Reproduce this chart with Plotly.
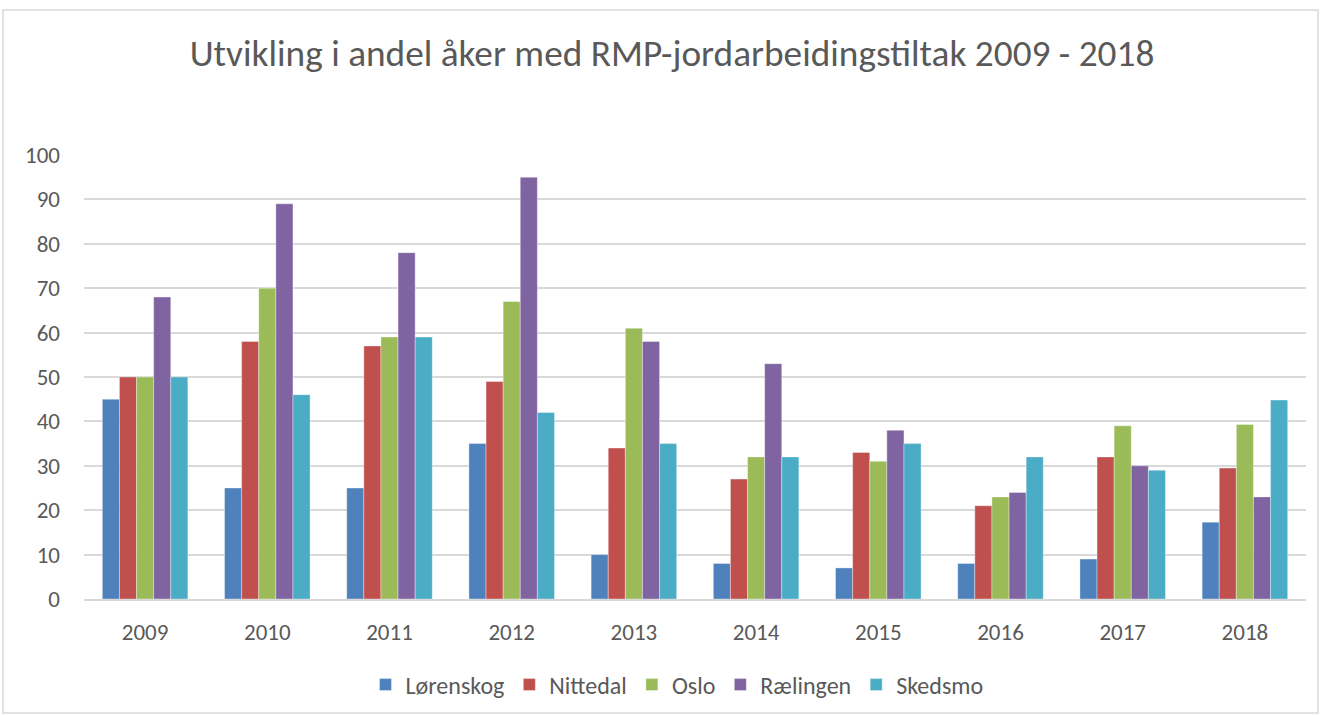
import plotly.graph_objects as go

years = ["2009", "2010", "2011", "2012", "2013", "2014", "2015", "2016", "2017", "2018"]
lorenskog = [45, 25, 25, 35, 10, 8, 7, 8, 9, 17.3]
nittedal = [50, 58, 57, 49, 34, 27, 33, 21, 32, 29.5]
oslo = [50, 70, 59, 67, 61, 32, 31, 23, 39, 39.3]
raelingen = [68, 89, 78, 95, 58, 53, 38, 24, 30, 23]
skedsmo = [50, 46, 59, 42, 35, 32, 35, 32, 29, 44.8]

series = [
    ("Lørenskog", lorenskog, "#4F81BD"),
    ("Nittedal", nittedal, "#C0504D"),
    ("Oslo", oslo, "#9BBB59"),
    ("Rælingen", raelingen, "#8064A2"),
    ("Skedsmo", skedsmo, "#4BACC6"),
]

FONT = "Carlito, Calibri, Lato, sans-serif"
GREY = "#595959"

fig = go.Figure()
for name, vals, col in series:
    fig.add_trace(go.Bar(name=name, x=years, y=vals, marker_color=col,
                         marker_line_color="rgba(255,255,255,0.6)", marker_line_width=0.6))

L, R, T, B = 84, 16, 155, 116
W, H = 1322, 715
pw, ph = W - L - R, H - T - B

fig.update_layout(
    width=W, height=H,
    margin=dict(l=L, r=R, t=T, b=B, autoexpand=False),
    paper_bgcolor="white", plot_bgcolor="white",
    barmode="group", bargap=0.30, bargroupgap=0,
    font=dict(family=FONT, color=GREY, size=23),
    title=dict(text="Utvikling i andel åker med RMP-jordarbeidingstiltak 2009 - 2018",
               x=672 / W, xanchor="center", y=1 - 53 / H, yanchor="middle",
               font=dict(size=37.3, color=GREY, family=FONT)),
    legend=dict(orientation="h", x=(677 - L) / pw, xanchor="center",
                y=(599 - 685) / ph, yanchor="middle",
                font=dict(size=24, color=GREY, family=FONT),
                itemwidth=30, traceorder="normal"),
    xaxis=dict(showgrid=False, showline=True, linecolor="#D9D9D9", linewidth=1.5,
               automargin=False,
               ticks="", tickfont=dict(size=23, color=GREY), ticklabelstandoff=12),
    yaxis=dict(range=[0, 100], dtick=10, showgrid=True, gridcolor="#D9D9D9", gridwidth=1.5,
               automargin=False,
               zeroline=False, showline=False, ticks="",
               tickfont=dict(size=23, color=GREY), ticklabelstandoff=23),
    shapes=[dict(type="rect", xref="paper", yref="paper",
                 x0=(3 - L) / pw, x1=(1318 - L) / pw,
                 y0=(599 - 713) / ph, y1=(599 - 10) / ph,
                 line=dict(color="#D9D9D9", width=1.5), fillcolor="rgba(0,0,0,0)",
                 layer="below")],
)

fig.write_html("out.html", config={"displayModeBar": False},
               post_script="document.body.style.margin='0';document.body.style.overflow='hidden';")
